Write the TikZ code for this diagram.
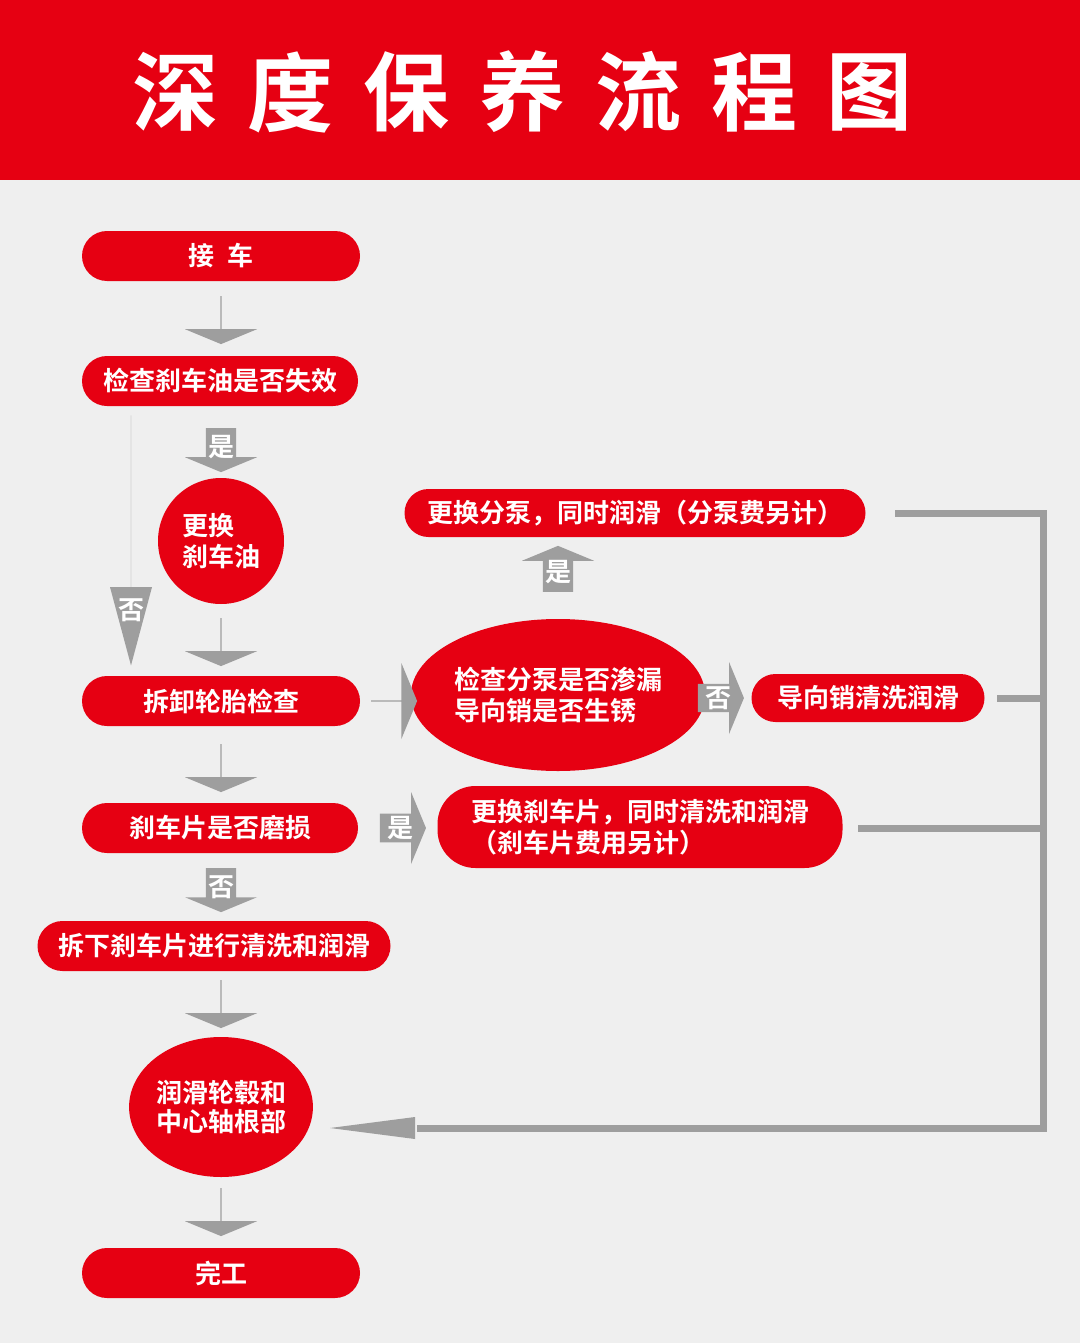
\documentclass[tikz,border=0pt]{standalone}
\usepackage{fontspec}
\setmainfont{Noto Sans CJK SC}[BoldFont={Noto Sans CJK SC Bold}]
\usetikzlibrary{shapes.geometric,shapes.arrows,arrows.meta}
\definecolor{hdred}{HTML}{E60012}
\definecolor{arrgray}{HTML}{9E9E9E}
\definecolor{bggray}{HTML}{EFEFEF}
\tikzset{
  pill/.style={fill=hdred,text=white,rounded corners=25pt,minimum height=50pt,
    inner sep=0pt,font=\bfseries\fontsize{26}{30}\selectfont},
  blob/.style={fill=hdred,text=white,inner sep=0pt,
    font=\bfseries\fontsize{26}{31}\selectfont},
  blk/.style={single arrow,fill=arrgray,text=white,inner sep=0pt,
    single arrow head extend=14pt,single arrow tip angle=135,
    minimum width=72pt,font=\bfseries\fontsize{26}{30}\selectfont},
  feed/.style={draw=arrgray,line width=7pt}
}
\begin{document}
\begin{tikzpicture}[x=1pt,y=-1pt]
  %% background and title
  \fill[bggray] (0,0) rectangle (1080,1343);
  \fill[hdred] (0,0) rectangle (1080,180);
  \foreach \c [count=\i] in {深,度,保,养,流,程,图}
    \node[text=white,font=\bfseries\fontsize{86}{90}\selectfont] (t\i) at (175+115.8*\i-115.8,92) {\c};

  %% main column
  \node[pill,minimum width=278pt] (pick) at (221,256) {接\hspace{0.5em}车};
  \node[pill,minimum width=276pt] (oil) at (220,381) {检查刹车油是否失效};
  \node[blob,circle,minimum size=126pt,align=left] (chg) at (221,541) {更换\\刹车油};
  \node[pill,minimum width=278pt] (tire) at (221,701) {拆卸轮胎检查};
  \node[pill,minimum width=276pt] (pad) at (220,828) {刹车片是否磨损};
  \node[pill,minimum width=353pt] (clean) at (214,946) {拆下刹车片进行清洗和润滑};
  \node[blob,ellipse,minimum width=176pt,minimum height=140pt,align=center,
    font=\bfseries\fontsize{26}{29}\selectfont] (hub) at (221,1107) {润滑轮毂和\\中心轴根部};
  \node[pill,minimum width=278pt] (done) at (221,1273) {完工};

  %% right side
  \node[pill,minimum width=461pt,rounded corners=24pt,minimum height=48pt] (pump) at (635,513) {更换分泵，同时润滑（分泵费另计）};
  \node[blob,ellipse,minimum width=254pt,minimum height=152pt,align=left] (leak) at (558,695) {检查分泵是否渗漏\\导向销是否生锈};
  \node[pill,minimum width=233pt,rounded corners=24pt,minimum height=48pt] (pin) at (868,698) {导向销清洗润滑};
  \node[blob,rounded corners=38pt,minimum width=405pt,minimum height=82pt,align=left] (newpad) at (640,827) {更换刹车片，同时清洗和润滑\\（刹车片费用另计）};

  %% block arrows
  \node[blk,shape border rotate=270,minimum height=48pt] (a1) at (221,320) {};
  \node[blk,shape border rotate=270,minimum height=44pt,minimum width=72pt,single arrow head extend=18pt] (a2) at (221,447) {是};
  \node[blk,shape border rotate=270,minimum height=48pt] (a3) at (221,642) {};
  \node[blk,shape border rotate=270,minimum height=48pt] (a4) at (221,768) {};
  \node[blk,shape border rotate=270,minimum height=44pt,single arrow head extend=18pt] (a5) at (221,887) {否};
  \node[blk,shape border rotate=270,minimum height=48pt] (a6) at (221,1004) {};
  \node[blk,shape border rotate=270,minimum height=48pt] (a7) at (221,1212) {};
  \node[blk,minimum height=46pt,minimum width=76pt] (a8) at (394,701) {};
  \node[blk,minimum height=46pt,single arrow head extend=18pt] (a9) at (718,698) {否};
  \node[blk,minimum height=46pt,single arrow head extend=18pt] (a10) at (400,828) {是};
  \node[blk,shape border rotate=90,minimum height=46pt,single arrow head extend=18pt] (a11) at (558,572) {是};
  \node[single arrow,shape border rotate=270,fill=arrgray,inner sep=0pt,minimum height=250pt,
    minimum width=42pt,single arrow head extend=17pt,single arrow tip angle=30] (a12) at (131,540) {};
  \node[text=white,font=\bfseries\fontsize{26}{30}\selectfont] (no1) at (131,610) {否};

  %% feedback lines
  \coordinate (r1) at (895,513);
  \coordinate (r2) at (997,698);
  \coordinate (r3) at (858,828);
  \coordinate (c1) at (1043,513);
  \coordinate (c2) at (1043,1128);
  \coordinate (e1) at (330,1128);
  \draw[feed,line join=miter] (r1) -- (c1) -- (c2) -- (e1 -| a8.east);
  \fill[arrgray] (e1) -- (415,1117) -- (415,1139) -- cycle;
  \draw[feed] (r2) -- (r2 -| c1);
  \draw[feed] (r3) -- (r3 -| c1);
\end{tikzpicture}
\end{document}
